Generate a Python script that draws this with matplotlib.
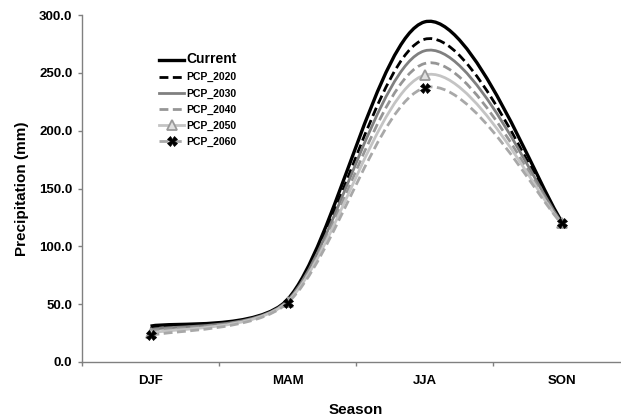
import matplotlib.pyplot as plt
import numpy as np
from matplotlib.path import Path
from matplotlib.patches import PathPatch
from matplotlib.lines import Line2D

plt.rcParams['font.family'] = ['Liberation Sans', 'DejaVu Sans']

seasons = ['DJF', 'MAM', 'JJA', 'SON']
current = [31, 54, 294, 122]
pcp_2020 = [29, 53, 279, 121]
pcp_2030 = [28, 53, 269, 121]
pcp_2040 = [27, 52, 258, 120]
pcp_2050 = [25, 52, 248, 120]
pcp_2060 = [23, 51, 237, 120]

series = [
    ('Current', current, dict(color='black', lw=2.4, ls='-')),
    ('PCP_2020', pcp_2020, dict(color='black', lw=2.0, dashes=(3.2, 1.6))),
    ('PCP_2030', pcp_2030, dict(color='#808080', lw=2.0, ls='-')),
    ('PCP_2040', pcp_2040, dict(color='#969696', lw=2.0, dashes=(3.2, 1.6))),
    ('PCP_2050', pcp_2050, dict(color='#c4c4c4', lw=2.0, ls='-',
                                marker='^', ms=7, mfc='#e0e0e0', mec='#9a9a9a', mew=1.3)),
    ('PCP_2060', pcp_2060, dict(color='#a8a8a8', lw=2.0, dashes=(3.2, 1.6),
                                marker='X', ms=7, mfc='black', mec='black', mew=0.5)),
]


def smooth_path(ax, xs, ys, k=0.3):
    # Excel-like smoothed line: bezier segments built in pixel space
    pts = ax.transData.transform(np.column_stack([xs, ys]))
    n = len(pts)
    verts = [pts[0]]
    codes = [Path.MOVETO]
    for i in range(n - 1):
        p0 = pts[max(i - 1, 0)]
        p1 = pts[i]
        p2 = pts[i + 1]
        p3 = pts[min(i + 2, n - 1)]
        seg = np.linalg.norm(p2 - p1)
        a1 = (p2 - p0) / 6.0
        a2 = (p3 - p1) / 6.0
        if np.linalg.norm(a1) > k * seg:
            a1 = a1 / np.linalg.norm(a1) * k * seg
        if np.linalg.norm(a2) > k * seg:
            a2 = a2 / np.linalg.norm(a2) * k * seg
        verts += [p1 + a1, p2 - a2, p2]
        codes += [Path.CURVE4] * 3
    return Path(ax.transData.inverted().transform(np.array(verts)), codes)


fig = plt.figure(figsize=(6.21, 4.18), dpi=100, facecolor='white')
ax = fig.add_axes([82 / 621, 1 - 362 / 418, 548 / 621, 347 / 418])
ax.set_xlim(-0.5, 3.5)
ax.set_ylim(0, 300)

x = np.arange(len(seasons))
handles = []
for name, vals, st in series:
    p = smooth_path(ax, x, vals)
    patch = PathPatch(p, fill=False, edgecolor=st['color'], lw=st['lw'],
                      capstyle='butt', zorder=2)
    if 'dashes' in st:
        patch.set_linestyle((0, st['dashes']))
    ax.add_patch(patch)
    if 'marker' in st:
        ax.plot(x, vals, ls='none', marker=st['marker'], ms=st['ms'],
                mfc=st['mfc'], mec=st['mec'], mew=st['mew'], zorder=3)
    handles.append(Line2D([], [], **st))

ax.spines['top'].set_visible(False)
ax.spines['right'].set_visible(False)
for s in ('left', 'bottom'):
    ax.spines[s].set_color('#808080')
    ax.spines[s].set_linewidth(1.0)

ax.set_yticks(np.arange(0, 301, 50))
ax.set_yticklabels(['%.1f' % v for v in np.arange(0, 301, 50)])
ax.set_xticks(x)
ax.set_xticklabels(seasons)
ax.set_xticks(np.arange(-0.5, 3.6, 1), minor=True)
ax.tick_params(axis='x', which='major', length=0, pad=9)
ax.tick_params(axis='x', which='minor', length=3, color='#808080', width=1)
ax.tick_params(axis='y', length=3, color='#808080', width=1, pad=4)
for lab in ax.get_xticklabels() + ax.get_yticklabels():
    lab.set_fontsize(9.5)
    lab.set_fontweight('bold')

ax.set_ylabel('Precipitation (mm)', fontsize=11, fontweight='bold', labelpad=7)
ax.set_xlabel('Season', fontsize=11, fontweight='bold', labelpad=12)

leg = ax.legend(handles, [s[0] for s in series], loc='upper left',
                bbox_to_anchor=(152 / 621, 1 - 45 / 418), bbox_transform=fig.transFigure,
                frameon=False, prop={'weight': 'bold', 'size': 7.5},
                handlelength=2.4, handletextpad=0.2, labelspacing=0.58,
                borderpad=0.2)
leg.get_texts()[0].set_fontsize(10)

plt.savefig('out.png', dpi=100, facecolor='white')
